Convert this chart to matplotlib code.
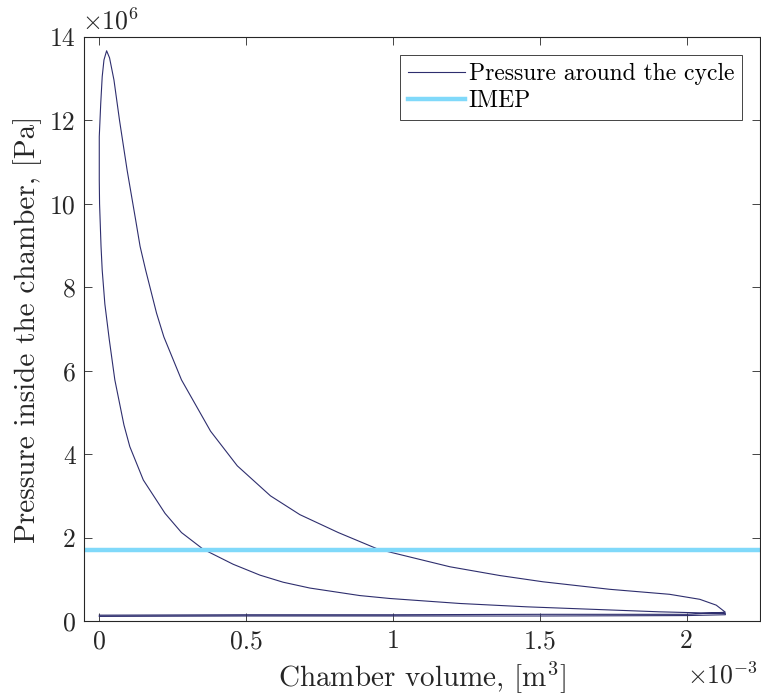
import matplotlib
matplotlib.use("Agg")
import matplotlib.pyplot as plt
from matplotlib.ticker import FuncFormatter

# Cycle trace: volume in units of 1e-3 m^3, pressure in units of 1e6 Pa
intake_v = [0.000, 0.500, 1.000, 1.500, 2.000, 2.132]
intake_p = [0.11, 0.12, 0.12, 0.12, 0.13, 0.15]

compression_v = [2.132, 1.908, 1.681, 1.455, 1.228, 0.989, 0.887, 0.717, 0.626, 0.547,
                 0.456, 0.354, 0.280, 0.224, 0.150, 0.104, 0.084, 0.053, 0.034, 0.019,
                 0.010, 0.006, 0.001, 0.000, 0.000, 0.005, 0.010, 0.016, 0.025]
compression_p = [0.18, 0.22, 0.28, 0.34, 0.42, 0.54, 0.61, 0.79, 0.93, 1.10,
                 1.36, 1.72, 2.12, 2.58, 3.38, 4.18, 4.70, 5.78, 6.75, 7.60,
                 8.41, 8.98, 10.00, 10.58, 11.61, 12.41, 13.05, 13.45, 13.67]

expansion_v = [0.035, 0.050, 0.069, 0.095, 0.124, 0.139, 0.158, 0.195, 0.220, 0.280,
               0.379, 0.470, 0.583, 0.683, 0.814, 0.950, 1.194, 1.364, 1.511, 1.738,
               1.942, 2.045, 2.101, 2.132]
expansion_p = [13.50, 12.97, 12.00, 10.80, 9.61, 8.98, 8.41, 7.38, 6.81, 5.78,
               4.55, 3.72, 3.00, 2.55, 2.12, 1.72, 1.30, 1.09, 0.94, 0.76,
               0.64, 0.52, 0.38, 0.21]

exhaust_v = [2.000, 1.500, 1.000, 0.500, 0.000]
exhaust_p = [0.16, 0.16, 0.15, 0.15, 0.14]

imep = 1.70
x_ticks = [0, 0.5, 1, 1.5, 2]
y_ticks = [0, 2, 4, 6, 8, 10, 12, 14]

volume = intake_v + compression_v + expansion_v + exhaust_v
pressure = intake_p + compression_p + expansion_p + exhaust_p

plt.rcParams['font.family'] = ['cmr10', 'DejaVu Serif']
plt.rcParams['mathtext.fontset'] = 'cm'
plt.rcParams['axes.unicode_minus'] = False

axc = '#262626'
fig = plt.figure(figsize=(7.61, 7.00), dpi=100)
ax = fig.add_axes([84/761, 1-621/700, (760-84)/761, (621-37)/700])

ax.plot(volume, pressure, color='#2e2e6e', lw=0.8, label='Pressure around the cycle')
ax.axhline(imep, color='#80d9fa', lw=3.2, label='IMEP')

ax.set_xlim(-0.052, 2.25)
ax.set_ylim(0, 14)
ax.set_xticks(x_ticks)
ax.set_yticks(y_ticks)
fmt = FuncFormatter(lambda v, p: f'{v:g}')
ax.xaxis.set_major_formatter(fmt)
ax.yaxis.set_major_formatter(fmt)
ax.tick_params(direction='in', length=6, width=0.6, colors=axc, labelsize=18.5,
               top=True, right=True, pad=6)
for s in ax.spines.values():
    s.set_color(axc)
    s.set_linewidth(0.8)

ax.set_xlabel('Chamber volume, [m$^3$]', fontsize=21, color=axc, labelpad=4)
ax.set_ylabel('Pressure inside the chamber, [Pa]', fontsize=21, color=axc, labelpad=6)

ax.text(-0.003, 1.005, r'$\times10^{6}$', transform=ax.transAxes, fontsize=18.5,
        color=axc, ha='left', va='bottom')
ax.text(0.997, -0.07, r'$\times10^{-3}$', transform=ax.transAxes, fontsize=18.5,
        color=axc, ha='right', va='top')

leg = ax.legend(loc='upper right', fontsize=17, fancybox=False, framealpha=1,
                edgecolor=axc, handlelength=2.4, handletextpad=0.17,
                borderaxespad=0.75, borderpad=0.35, labelspacing=0.2)
leg.get_frame().set_linewidth(0.6)

fig.savefig('out.png', dpi=100)
